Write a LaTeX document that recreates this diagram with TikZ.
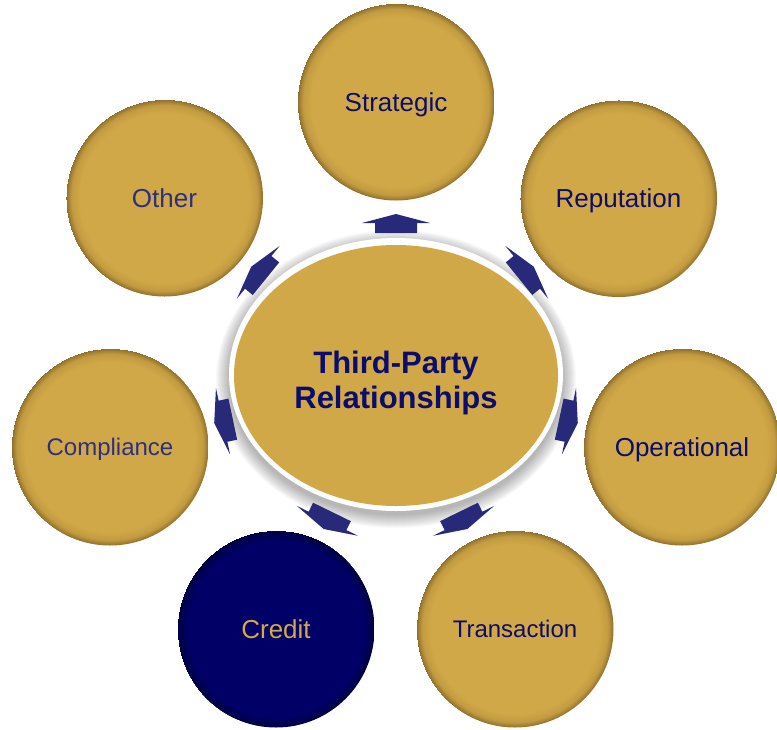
\documentclass[tikz,border=0pt]{standalone}
\usepackage{fontspec}
\setmainfont{Liberation Sans}
\usetikzlibrary{shapes.geometric}
\definecolor{gold}{HTML}{D1A847}
\definecolor{goldrim}{HTML}{8E6F2C}
\definecolor{navy}{HTML}{000066}
\definecolor{navyrim}{HTML}{000040}
\definecolor{arrowblue}{HTML}{29297A}
\definecolor{labelnavy}{HTML}{0C0C6C}
\definecolor{labelsoft}{HTML}{2E2F82}
\definecolor{labelgold}{HTML}{D4A84A}
% flat disc with a soft darker rim
\pgfdeclareradialshading{goldball}{\pgfpoint{0bp}{0bp}}{color(0bp)=(gold); color(21.5bp)=(gold); color(23.6bp)=(gold!78!goldrim); color(25bp)=(goldrim)}
\pgfdeclareradialshading{navyball}{\pgfpoint{0bp}{0bp}}{color(0bp)=(navy); color(22.5bp)=(navy); color(25bp)=(navyrim)}
\begin{document}
\begin{tikzpicture}[x=1pt,y=-1pt,
  risk/.style={circle, minimum size=197pt, inner sep=0pt, shading=goldball,
    text=labelnavy, text depth=0pt, font=\fontsize{26pt}{30pt}\selectfont},
  risksmall/.style={risk, font=\fontsize{24pt}{28pt}\selectfont},
  riskarrow/.pic={\fill[arrowblue] (10pt,0pt) -- (1pt,34pt) -- (1pt,21pt) -- (-9pt,21pt)
      -- (-9pt,-21pt) -- (1pt,-21pt) -- (1pt,-34pt) -- cycle;}]
\useasboundingbox (0,0) rectangle (777,729);

% soft shadow around the hub
\foreach \i in {0,...,13}
  \fill[black, opacity=0.022] (396,379) ellipse [x radius={167pt+\i pt}, y radius={136pt+\i pt}];

% outward arrows around the hub
\pic[rotate=90]   at (396,224) {riskarrow};
\pic[rotate=39]   at (526,273) {riskarrow};
\pic[rotate=-12]  at (568,421) {riskarrow};
\pic[rotate=-64]  at (463,520) {riskarrow};
\pic[rotate=-116] at (328,520) {riskarrow};
\pic[rotate=192]  at (224,421) {riskarrow};
\pic[rotate=141]  at (259,273) {riskarrow};

% hub: white ring and gold ellipse
\fill[white] (396,374.5) ellipse [x radius=167pt, y radius=136.5pt];
\node[ellipse, minimum width=324pt, minimum height=261pt, inner sep=0pt, fill=gold]
  (hub) at (396,375.5) {};
\node[text=labelnavy, align=center, font=\bfseries\fontsize{31pt}{35pt}\selectfont]
  (hubtext) at (396,382.5) {Third-Party\\Relationships};

% risk categories
\node[risk] (strategic) at (396,102) {Strategic};
\node[risk] (reputation) at (618.5,198.5) {Reputation};
\node[risk] (operational) at (682,447) {Operational};
\node[risksmall] (transaction) at (515,629) {Transaction};
\node[risk, shading=navyball, text=labelgold] (credit) at (276,629) {Credit};
\node[risksmall, text=labelsoft] (compliance) at (110,447) {Compliance};
\node[risk, text=labelsoft] (other) at (164.5,198) {Other};
\end{tikzpicture}
\end{document}
